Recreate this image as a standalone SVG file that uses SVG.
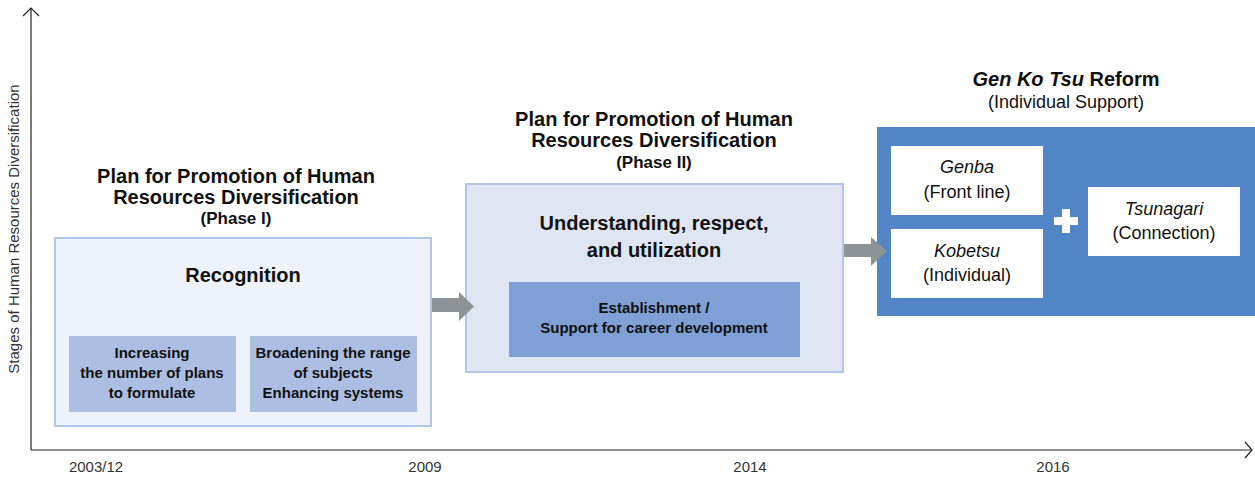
<svg xmlns="http://www.w3.org/2000/svg" width="1255" height="477" viewBox="0 0 1255 477">
<style>
text{font-family:"Liberation Sans",Arial,sans-serif;fill:#111;text-anchor:middle}
.h{font-size:20px;font-weight:bold}
.ph{font-size:17px;font-weight:bold}
.in{font-size:15px;font-weight:bold}
.w{font-size:18px}
.it{font-style:italic}
.ax{font-size:15px;fill:#333}
.axis{stroke:#222;stroke-width:1.2;fill:none}
.arr{fill:#8e9398}
</style>
<g id="axes">
<line class="axis" x1="31" y1="8" x2="31" y2="450"/>
<polyline class="axis" points="23,16 31,8 39,16"/>
<line class="axis" x1="31" y1="450" x2="1252" y2="450"/>
<polyline class="axis" points="1245,442 1252,450 1245,458"/>
<text class="ax" transform="translate(19,229) rotate(-90)">Stages of Human Resources Diversification</text>
<text class="ax" x="96" y="472">2003/12</text>
<text class="ax" x="425" y="472">2009</text>
<text class="ax" x="750" y="472">2014</text>
<text class="ax" x="1053" y="472">2016</text>
</g>
<g id="phase1">
<text class="h" x="236" y="183">Plan for Promotion of Human</text>
<text class="h" x="236" y="204">Resources Diversification</text>
<text class="ph" x="236" y="224">(Phase I)</text>
<rect x="55" y="238" width="376" height="188" fill="#eef2fa" stroke="#b4c6e7" stroke-width="2"/>
<text class="h" x="243" y="282">Recognition</text>
<rect x="69" y="336" width="167" height="76" fill="#acbfe3"/>
<text class="in" x="152" y="358">Increasing</text>
<text class="in" x="152" y="378">the number of plans</text>
<text class="in" x="152" y="398">to formulate</text>
<rect x="250" y="336" width="167" height="76" fill="#acbfe3"/>
<text class="in" x="333" y="358">Broadening the range</text>
<text class="in" x="333" y="378">of subjects</text>
<text class="in" x="333" y="398">Enhancing systems</text>
</g>
<g id="phase2">
<text class="h" x="654" y="126">Plan for Promotion of Human</text>
<text class="h" x="654" y="147">Resources Diversification</text>
<text class="ph" x="654" y="168">(Phase II)</text>
<rect x="466" y="184" width="377" height="188" fill="#dfe5f3" stroke="#b4c6e7" stroke-width="2"/>
<text class="h" x="654" y="230">Understanding, respect,</text>
<text class="h" x="654" y="257">and utilization</text>
<rect x="509" y="282" width="291" height="75" fill="#7f9fd5"/>
<text class="in" x="654" y="313">Establishment /</text>
<text class="in" x="654" y="333">Support for career development</text>
</g>
<g id="reform">
<text class="h" x="1066" y="86"><tspan class="it">Gen Ko Tsu</tspan> Reform</text>
<text class="w" x="1066" y="108">(Individual Support)</text>
<rect x="877" y="127" width="378" height="189" fill="#5185c5"/>
<rect x="891" y="146" width="152" height="69" fill="#fff"/>
<text class="w it" x="967" y="173">Genba</text>
<text class="w" x="967" y="198">(Front line)</text>
<rect x="891" y="229" width="152" height="69" fill="#fff"/>
<text class="w it" x="967" y="257">Kobetsu</text>
<text class="w" x="967" y="281">(Individual)</text>
<rect x="1088" y="187" width="152" height="69" fill="#fff"/>
<text class="w it" x="1164" y="215">Tsunagari</text>
<text class="w" x="1164" y="239">(Connection)</text>
<path d="M1062,209h8v8h8v8h-8v8h-8v-8h-8v-8h8z" fill="#fff"/>
</g>
<g id="connectors">
<path class="arr" d="M432,298H459V292L474,306.5L459,321V312H432Z"/>
<path class="arr" d="M844,244H871V237L887,251L871,266V257H844Z"/>
</g>
</svg>
